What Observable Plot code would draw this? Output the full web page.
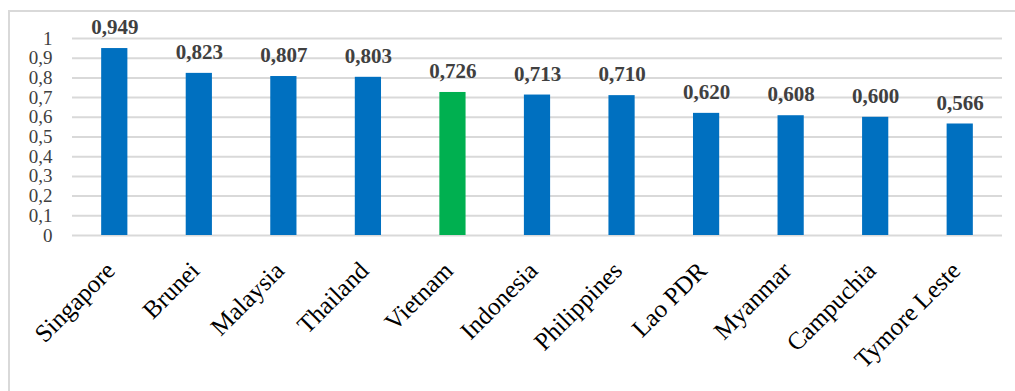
<!DOCTYPE html>
<html>
<head>
<meta charset="utf-8">
<script src="https://cdn.jsdelivr.net/npm/d3@7"></script>
<script src="https://cdn.jsdelivr.net/npm/@observablehq/plot@0.6"></script>
<style>
  html, body { margin: 0; padding: 0; background: #fff; }
  #wrap { position: relative; width: 1015px; height: 391px; overflow: hidden; }
  #border { position: absolute; left: 8px; top: 10px; width: 1020px; height: 400px;
            border-left: 2px solid #d9d9d9; border-top: 2px solid #d9d9d9; box-sizing: border-box; }
  #chart { position: absolute; left: 0; top: 0; }
</style>
</head>
<body>
<div id="wrap"><div id="border"></div><div id="chart"></div></div>
<script>
const countries = ["Singapore", "Brunei", "Malaysia", "Thailand", "Vietnam", "Indonesia", "Philippines", "Lao PDR", "Myanmar", "Campuchia", "Tymore Leste"];
const values = [0.949, 0.823, 0.807, 0.803, 0.726, 0.713, 0.710, 0.620, 0.608, 0.600, 0.566];
const yTicks = [0, 0.1, 0.2, 0.3, 0.4, 0.5, 0.6, 0.7, 0.8, 0.9, 1];
const highlight = "Vietnam";

const data = countries.map((c, i) => ({country: c, value: values[i]}));
const fmt = v => v.toFixed(3).replace(".", ",");
const fmtTick = v => v === 0 ? "0" : v === 1 ? "1" : String(v).replace(".", ",");

const chart = Plot.plot({
  width: 1015,
  height: 391,
  marginLeft: 72,
  marginRight: 13,
  marginTop: 38,
  marginBottom: 156,
  style: {fontFamily: "'Liberation Serif', 'Times New Roman', serif", background: "transparent"},
  x: {domain: countries, paddingInner: 0.69, paddingOuter: 0.345, align: 0.5, round: false, label: null, tickSize: 0},
  y: {domain: [0, 1], label: null, ticks: yTicks, tickFormat: fmtTick, tickSize: 0},
  marks: [
    Plot.gridY(yTicks, {stroke: "#d9d9d9", strokeOpacity: 1, strokeWidth: 2}),
    Plot.barY(data, {x: "country", y: "value", fill: d => d.country === highlight ? "#00b050" : "#0070c0"}),
    Plot.text(data, {x: "country", y: "value", text: d => fmt(d.value), dy: -21,
      fontWeight: "bold", fontSize: 21, fill: "#404040"}),
    Plot.axisY({ticks: yTicks, tickFormat: fmtTick, tickSize: 0, tickPadding: 20, fontSize: 19, fill: "#404040", label: null}),
    Plot.axisX({tickSize: 0, tickRotate: -45, fontSize: 25, fill: "#000", label: null, tickPadding: 31, dx: -4})
  ]
});
document.getElementById("chart").appendChild(chart);
</script>
</body>
</html>
